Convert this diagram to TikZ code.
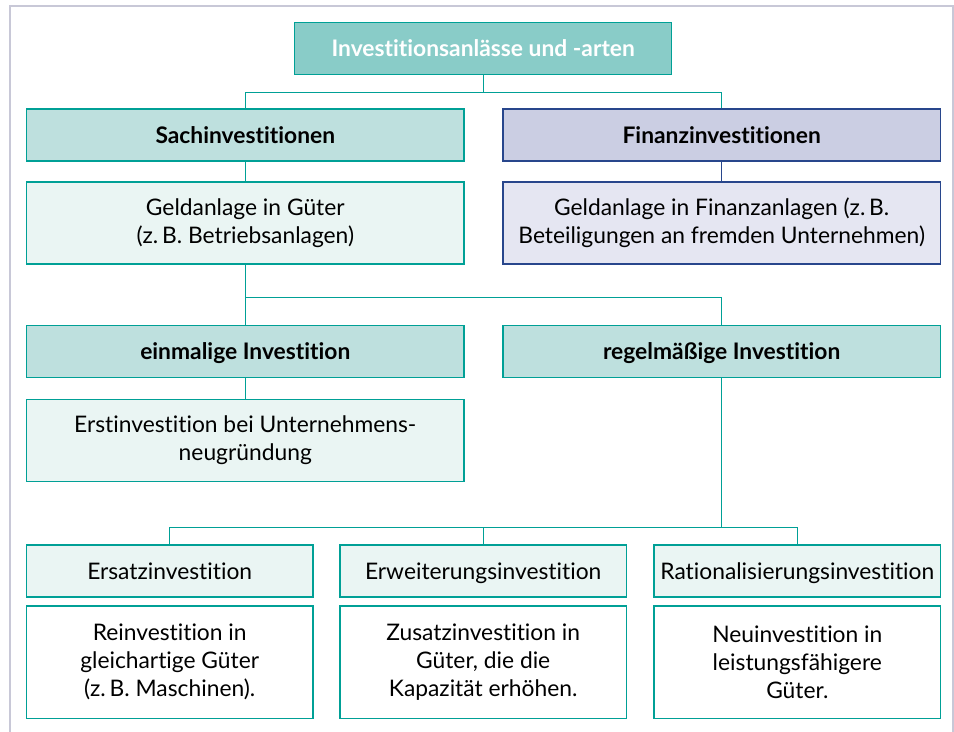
\documentclass[tikz,border=0pt]{standalone}
\usepackage{fontspec}
\setmainfont{Lato}[Ligatures=NoCommon]
\definecolor{linie}{RGB}{0,160,150}
\definecolor{blaulinie}{RGB}{40,70,140}
\definecolor{titelgruen}{RGB}{137,204,200}
\definecolor{kopfgruen}{RGB}{190,224,222}
\definecolor{hellgruen}{RGB}{234,245,243}
\definecolor{kopfblau}{RGB}{203,206,227}
\definecolor{hellblau}{RGB}{229,230,242}
\definecolor{rahmen}{RGB}{200,200,215}
\begin{document}
\begin{tikzpicture}[x=0.5pt,y=-0.5pt,
    box/.style={draw=linie,line width=0.7pt,align=center,inner sep=0pt,
        font=\fontsize{11.4}{14}\selectfont},
    breit/.style={box,minimum width=218.7pt},
    schmal/.style={box,minimum width=143.2pt},
    einzeilig/.style={text height=9.5pt,text depth=1.3pt},
    kopf/.style={einzeilig,minimum height=26pt,fill=kopfgruen,font=\fontsize{11.4}{14}\selectfont\bfseries},
    text2/.style={minimum height=41pt,fill=hellgruen},
    verb/.style={draw=linie,line width=0.7pt}]
    \useasboundingbox (0,0) rectangle (954,732);
    \draw[rahmen,line width=1pt](10,732)--(10,6)--(952.7,6)--(952.7,732);
    % oberste Ebene
    \node[box,einzeilig,minimum width=188.5pt,minimum height=25.8pt,fill=titelgruen,text=white,
        font=\fontsize{11.4}{14}\selectfont\bfseries](titel) at (483.2,48.5){Investitionsanlässe und -arten};
    \node[breit,kopf](sach) at (245.3,135){Sachinvestitionen};
    \node[breit,kopf,fill=kopfblau,draw=blaulinie](finanz) at (721.7,135){Finanzinvestitionen};
    \node[breit,text2](sachtext) at (245.3,223.2){Geldanlage in Güter\\(z.\,B. Betriebsanlagen)};
    \node[breit,text2,fill=hellblau,draw=blaulinie](finanztext) at (721.7,223.2){Geldanlage in Finanzanlagen (z.\,B.\\Beteiligungen an fremden Unternehmen)};
    \node[breit,kopf](einmal) at (245.3,351.8){einmalige Investition};
    \node[breit,kopf](regel) at (721.7,351.8){regelmäßige Investition};
    \node[breit,text2](erst) at (245.3,440.5){Erstinvestition bei Unternehmens-\\neugründung};
    % untere Ebene
    \foreach \x/\name/\kopftext/\langtext in {169.7/ersatz/Ersatzinvestition/{Reinvestition in\\gleichartige Güter\\(z.\,B. Maschinen).},
        483.2/erweit/Erweiterungsinvestition/{Zusatzinvestition in\\Güter, die die\\Kapazität erhöhen.},
        797.3/ratio/Rationalisierungsinvestition/{Neuinvestition in\\leistungsfähigere\\Güter.}}
    {
        \node[schmal,einzeilig,minimum height=26pt,fill=hellgruen](\name) at (\x,571){\kopftext};
        \node[schmal,minimum height=56.2pt,fill=white](\name text) at (\x,662.2){\langtext};
    }
    \draw[verb](titel.south)--++(0,17.7)-|(sach.north);
    \draw[verb](titel.south)--++(0,17.7)-|(finanz.north);
    \draw[verb](sach)--(sachtext);
    \draw[blaulinie,line width=0.7pt](finanz)--(finanztext);
    \draw[verb](sachtext.south)--++(0,32.7)-|(einmal.north);
    \draw[verb](sachtext.south)--++(0,32.7)-|(regel.north);
    \draw[verb](einmal)--(erst);
    \foreach \name in {ersatz,erweit,ratio}
    {
        \draw[verb](regel.south)--++(0,149)-|(\name.north);
    }
\end{tikzpicture}
\end{document}
